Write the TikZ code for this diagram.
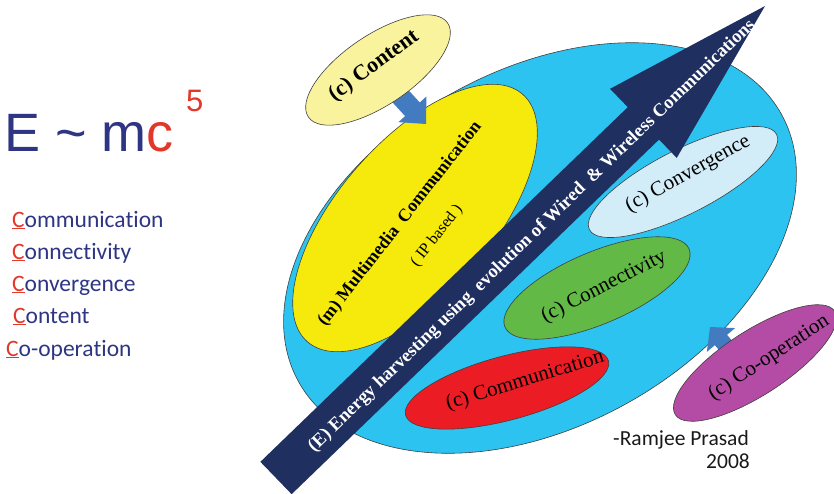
\documentclass[tikz,border=0pt]{standalone}
\usepackage{fontspec}
\setmainfont{Liberation Serif}
\newfontfamily\arialf{Liberation Sans}
\newfontfamily\calib[Ligatures={NoCommon}]{Carlito}
\usetikzlibrary{shapes.geometric,calc}
\definecolor{sky}{HTML}{2CC3F0}
\definecolor{navyarrow}{HTML}{1F2F5F}
\definecolor{ylw}{HTML}{F5EA0C}
\definecolor{paleylw}{HTML}{FAF39E}
\definecolor{lblue}{HTML}{D2ECF8}
\definecolor{grn}{HTML}{62B946}
\definecolor{rd}{HTML}{EC1C24}
\definecolor{mag}{HTML}{B44BA4}
\definecolor{barrow}{HTML}{437BC0}
\definecolor{txtnavy}{HTML}{2E3582}
\definecolor{txtred}{HTML}{E2372B}
\newcommand{\fsz}[1]{\fontsize{#1}{#1}\selectfont}
% #1 tail, #2 tip, #3 half shaft, #4 half head, #5 head length, #6 colour, #7 name of head base
\newcommand{\blockarrow}[7]{%
  \coordinate (#7) at ($(#2)!#5!(#1)$);
  \fill[#6] ($(#1)!#3!90:(#2)$) -- ($(#7)!#3!-90:(#1)$) -- ($(#7)!#4!-90:(#1)$)
    -- (#2) -- ($(#7)!#4!90:(#1)$) -- ($(#7)!#3!90:(#1)$) -- ($(#1)!#3!-90:(#2)$) -- cycle;}
\begin{document}
\begin{tikzpicture}[x=1pt,y=-1pt,
  blob/.style={ellipse, draw=black!75, line width=0.6pt, inner sep=0pt},
  lbl/.style={inner sep=0pt, font=\fsz{21}},
  listitem/.style={anchor=base west, inner sep=0pt, text=txtnavy, font=\calib\fsz{23.5}},
  credit/.style={inner sep=0pt, text=black!90, font=\calib\fsz{21.5}}]
\useasboundingbox (0,0) rectangle (834,494);

% left formula and list
\node[anchor=base west, inner sep=0pt, text=txtnavy, font=\arialf\fsz{54}] (eq) at (4,152)
  {E \textasciitilde{} m\textcolor{txtred}{c}};
\node[anchor=base west, inner sep=0pt, text=txtred, font=\arialf\fsz{31}] (five) at (186,112) {5};
\node[listitem] (l1) at (12,227) {{\color{txtred}\underline{C}}ommunication};
\node[listitem] (l2) at (12,259) {{\color{txtred}\underline{C}}onnectivity};
\node[listitem] (l3) at (12,291) {{\color{txtred}\underline{C}}onvergence};
\node[listitem] (l4) at (13,323) {{\color{txtred}\underline{C}}ontent};
\node[listitem] (l5) at (6,356) {{\color{txtred}\underline{C}}o-operation};

% big ellipse
\node[blob, fill=sky, minimum width=552pt, minimum height=356pt, rotate=29] (outer) at (540,248) {};
% inner ellipses
\node[blob, fill=ylw, minimum width=328pt, minimum height=154pt, rotate=49] (mm) at (415,218) {};
\node[blob, fill=lblue, minimum width=210pt, minimum height=64pt, rotate=27] (conv) at (683,182) {};
\node[blob, fill=grn, minimum width=200pt, minimum height=72pt, rotate=23] (conn) at (597,288) {};
\node[blob, fill=rd, minimum width=210pt, minimum height=64pt, rotate=15] (comm) at (507,388) {};

% content ellipse and arrow
\coordinate (cTail) at (391,86);
\coordinate (cTip) at (426,124);
\blockarrow{cTail}{cTip}{10pt}{19pt}{20pt}{barrow}{cBase}
\node[blob, fill=paleylw, minimum width=168pt, minimum height=70pt, rotate=34] (content) at (378,70) {};

% co-operation arrow and ellipse
\coordinate (oTail) at (737,359);
\coordinate (oTip) at (710,327);
\blockarrow{oTail}{oTip}{8pt}{18.5pt}{17pt}{barrow}{oBase}
\node[blob, fill=mag, minimum width=190pt, minimum height=64pt, rotate=33] (coop) at (755,363) {};

% big energy arrow
\coordinate (eTail) at (276,478);
\coordinate (eTip) at (765,6);
\blockarrow{eTail}{eTip}{22.5pt}{48pt}{169pt}{navyarrow}{eBase}

% labels
\node[lbl, font=\bfseries\fsz{22}, rotate=36] (tcontent) at (374,66) {(c) Content};
\node[lbl, font=\bfseries\fsz{18}, rotate=52] (tmm) at (400,224) {(m) Multimedia\ \ Communication};
\node[lbl, font=\fsz{16}, rotate=52] (tip) at (437,236) {(\ IP based\ )};
\node[lbl, rotate=29] (tconv) at (688,174) {(c) Convergence};
\node[lbl, rotate=27] (tconn) at (604,287) {(c) Connectivity};
\node[lbl, rotate=17] (tcomm) at (525,381) {(c) Communication};
\node[lbl, rotate=33] (tcoop) at (769,358) {(c) Co-operation};
\node[lbl, text=white, font=\bfseries\fsz{18.5}, rotate=44] (tenergy) at (532,236)
  {(E) Energy harvesting using\ \ evolution of Wired\ \ \& Wireless Communications};

% credit
\node[credit, anchor=base west] (author) at (613,445) {-Ramjee Prasad};
\node[credit, anchor=base east] (year) at (750,468) {2008};
\end{tikzpicture}
\end{document}
